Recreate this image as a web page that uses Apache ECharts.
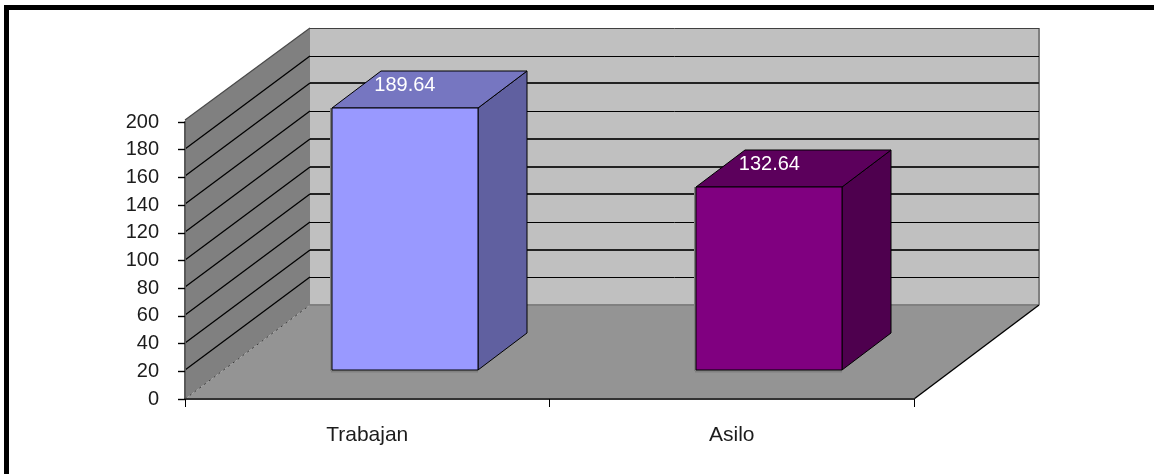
<!DOCTYPE html>
<html>
<head>
<meta charset="utf-8">
<style>
  html, body { margin: 0; padding: 0; background: #fff; }
  #chart { width: 1154px; height: 474px; }
</style>
<script src="https://cdn.jsdelivr.net/npm/echarts@6/dist/echarts.min.js"></script>
</head>
<body>
<div id="chart"></div>
<script>
// Chart data
const categories = ['Trabajan', 'Asilo'];
const values = [189.64, 132.64];
const yTicks = [20, 40, 60, 80, 100, 120, 140, 160, 180, 200];
const heavyTicks = [40, 80, 100, 120, 160];

// Face colours of each column: front, top, side
const barFaces = [
  ['#9999ff', '#7676c1', '#6060a0'],
  ['#800080', '#5c005c', '#4e004e']
];

// Oblique projection of the box the chart sits in
const WALL_DX = 125, WALL_DY = -94;
const BAR_INSET_DX = 37.6, BAR_INSET_DY = -29;
const BAR_DX = 49, BAR_DY = -37;
const BAR_WIDTH_RATIO = 0.4;
const FONT = '"Liberation Sans", Arial, sans-serif';
const TEXT_COLOR = '#1c1c1c';

function poly(points, fill, stroke, lineWidth) {
  return {
    type: 'polygon',
    shape: { points },
    style: { fill, stroke: stroke || null, lineWidth: lineWidth || 0 }
  };
}

function seg(x1, y1, x2, y2, stroke, lineWidth, extra) {
  return {
    type: 'line',
    shape: { x1, y1, x2, y2 },
    style: Object.assign({ stroke, lineWidth, fill: null }, extra || {})
  };
}

// Side wall, back wall and floor
function renderPlanes(params) {
  const g = params.coordSys;
  const l = g.x, r = g.x + g.width, t = g.y, b = g.y + g.height;
  const dx = WALL_DX, dy = WALL_DY;
  return {
    type: 'group',
    children: [
      poly([[l + dx, t + dy], [r + dx, t + dy], [r + dx, b + dy], [l + dx, b + dy]], '#c0c0c0'),
      poly([[l, b], [l + dx, b + dy], [r + dx, b + dy], [r, b]], '#949494'),
      poly([[l, b], [l + dx, b + dy], [l + dx, t + dy], [l, t - 2]], '#808080'),
      seg(l + dx, b + dy, r + dx, b + dy, '#808080', 2),
      seg(r + dx, t + dy, r + dx, b + dy, '#808080', 2),
      seg(l, t - 2, l + dx, t + dy, '#4a4a4a', 1.2),
      seg(r, b, r + dx, b + dy, '#000000', 1.4),
      seg(l, b, l + dx, b + dy, '#3a3a3a', 1, { lineDash: [2, 4] })
    ]
  };
}

// One grid line per tick, folded from the side wall onto the back wall
function renderGridLine(params, api) {
  const g = params.coordSys;
  const tick = api.value(1);
  const y = Math.round(api.coord([0, tick])[1]);
  const l = g.x, r = g.x + g.width;
  const heavy = heavyTicks.indexOf(tick) >= 0;
  const backY = y + WALL_DY + (heavy ? 0 : 0.5);
  const children = [
    seg(l + WALL_DX, backY, r + WALL_DX, backY, tick === 200 ? '#404040' : (heavy ? '#222222' : '#000000'), heavy ? 2 : 1)
  ];
  if (tick !== 200) {
    children.push(seg(l, y - 1, l + WALL_DX, y + WALL_DY, '#000000', 1.3));
  }
  return { type: 'group', children };
}

// A column drawn as three faces, with its value on the top face
function renderBar(params, api) {
  const idx = api.value(0);
  const val = api.value(1);
  const top = api.coord([idx, val]);
  const base = api.coord([idx, 0]);
  const w = api.size([1, 0])[0] * BAR_WIDTH_RATIO;
  const cx = top[0] + BAR_INSET_DX;
  const x0 = Math.round(cx - w / 2), x1 = Math.round(cx + w / 2);
  const yt = Math.ceil(top[1] + BAR_INSET_DY);
  const yb = Math.round(base[1] + BAR_INSET_DY);
  const faces = barFaces[idx];
  const edge = '#000000';
  return {
    type: 'group',
    children: [
      seg(x0 - 1, yt, x0 - 1, yb + 1, '#808080', 2),
      seg(x0 - 1, yb + 1.5, x1, yb + 1.5, '#808080', 2),
      poly([[x1, yb], [x1 + BAR_DX, yb + BAR_DY], [x1 + BAR_DX, yt + BAR_DY], [x1, yt]], faces[2], edge, 1),
      poly([[x0, yt], [x0 + BAR_DX, yt + BAR_DY], [x1 + BAR_DX, yt + BAR_DY], [x1, yt]], faces[1], edge, 1),
      poly([[x0, yt], [x1, yt], [x1, yb], [x0, yb]], faces[0], edge, 1),
      {
        type: 'text',
        style: {
          text: val.toFixed(2),
          x: cx,
          y: yt - 23,
          align: 'center',
          verticalAlign: 'middle',
          fill: '#ffffff',
          font: '20px ' + FONT
        }
      }
    ]
  };
}

const chart = echarts.init(document.getElementById('chart'), null, { renderer: 'canvas' });

chart.setOption({
  animation: false,
  backgroundColor: '#ffffff',
  grid: { left: 185, right: 240, top: 122, bottom: 75 },
  xAxis: {
    type: 'category',
    data: categories,
    z: 5,
    axisLine: { lineStyle: { color: '#333333', width: 2 } },
    axisTick: { show: true, length: 8, lineStyle: { color: '#000000', width: 1 } },
    axisLabel: { color: TEXT_COLOR, fontFamily: FONT, fontSize: 21, margin: 26 },
    splitLine: { show: false }
  },
  yAxis: {
    type: 'value',
    min: 0,
    max: 200,
    interval: 20,
    z: 5,
    axisLine: { show: true, lineStyle: { color: '#595959', width: 2 } },
    axisTick: { show: true, length: 7, lineStyle: { color: '#000000', width: 1.4 } },
    axisLabel: { color: TEXT_COLOR, fontFamily: FONT, fontSize: 20, margin: 26, padding: [2, 0, 0, 0] },
    splitLine: { show: false }
  },
  series: [
    {
      type: 'custom',
      name: 'planes',
      z: 1,
      silent: true,
      clip: false,
      renderItem: renderPlanes,
      data: [[0, 0]]
    },
    {
      type: 'custom',
      name: 'gridlines',
      z: 2,
      silent: true,
      clip: false,
      renderItem: renderGridLine,
      encode: { x: 0, y: 1 },
      data: yTicks.map(t => [0, t])
    },
    {
      type: 'custom',
      name: 'columns',
      z: 3,
      silent: true,
      clip: false,
      renderItem: renderBar,
      encode: { x: 0, y: 1 },
      data: values.map((v, i) => [i, v])
    }
  ],
  graphic: [
    { type: 'rect', shape: { x: 4, y: 5, width: 1150, height: 5 }, style: { fill: '#000000' }, silent: true },
    { type: 'rect', shape: { x: 4, y: 5, width: 5, height: 469 }, style: { fill: '#000000' }, silent: true }
  ]
});
</script>
</body>
</html>
